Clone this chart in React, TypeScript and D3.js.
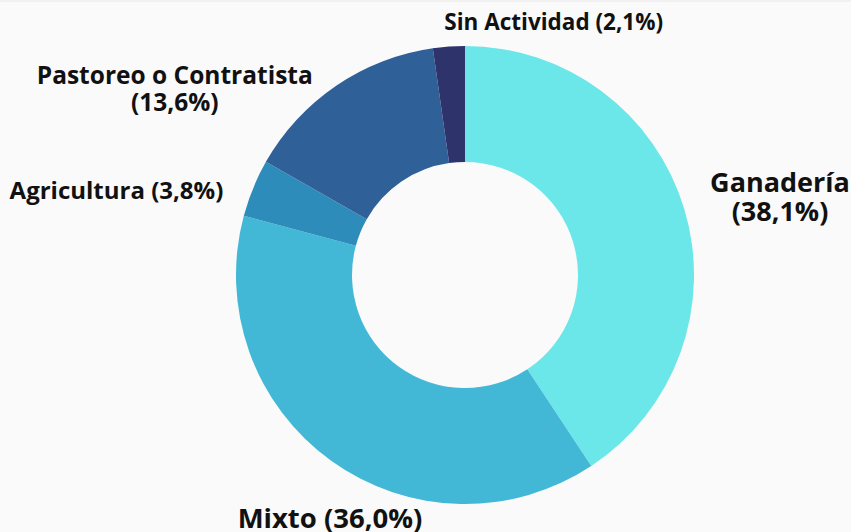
import React, { useEffect, useRef } from 'react';
import * as d3 from 'd3';

// slice categories, values (%) and colours
const categories = ['Ganadería', 'Mixto', 'Agricultura', 'Pastoreo o Contratista', 'Sin Actividad'];
const values = [38.1, 36.0, 3.8, 13.6, 2.1];
const colors = ['#6be6e9', '#43b8d6', '#2d8cba', '#2f6098', '#2f336c'];

// label text lines: name split where the reference wraps
const labelLines = [
    ['Ganadería', '(38,1%)'],
    ['Mixto (36,0%)'],
    ['Agricultura (3,8%)'],
    ['Pastoreo o Contratista', '(13,6%)'],
    ['Sin Actividad (2,1%)'],
];

// label layout: nudge from the point on the label ring, font size, line gap
const labelLayout = [
    { dx: 66, dy: -8, size: 27, gap: 29 },
    { dx: 17, dy: 42, size: 27.5, gap: 0 },
    { dx: -108, dy: 23, size: 24, gap: 0 },
    { dx: -144, dy: 24, size: 24.5, gap: 27 },
    { dx: 107, dy: 14, size: 22.5, gap: 0 },
];

const App = () => {
    const svgRef = useRef<SVGSVGElement>(null);

    useEffect(() => {
        const width = 851;
        const height = 532;
        const cx = 465;
        const cy = 275;
        const outerR = 229;
        const innerR = 113;
        const labelR = 260;

        const svg = d3.select(svgRef.current);
        svg.selectAll('*').remove();
        svg.attr('width', width).attr('height', height);

        svg.append('rect').attr('width', width).attr('height', height).attr('fill', '#fafafa');
        svg.append('rect').attr('width', width).attr('height', 2).attr('fill', '#f1f1f1');

        const data = categories.map((c, i) => ({ name: c, value: values[i], i }));

        const pie = d3.pie<any>().value(d => d.value).sort(null);
        const arc = d3.arc<any>().innerRadius(innerR).outerRadius(outerR);
        const arcs = pie(data);

        const g = svg.append('g').attr('transform', `translate(${cx},${cy})`);

        g.selectAll('path')
            .data(arcs)
            .enter().append('path')
            .attr('d', arc)
            .attr('fill', d => colors[d.data.i]);

        const labels = g.selectAll('text')
            .data(arcs)
            .enter().append('text')
            .attr('text-anchor', 'middle')
            .style('font-family', '"Open Sans", sans-serif')
            .style('font-weight', 700)
            .style('font-size', d => `${labelLayout[d.data.i].size}px`)
            .attr('fill', '#111')
            .attr('transform', d => {
                const mid = (d.startAngle + d.endAngle) / 2;
                const n = labelLayout[d.data.i];
                const x = Math.sin(mid) * labelR + n.dx;
                const y = -Math.cos(mid) * labelR + n.dy;
                return `translate(${x},${y})`;
            });

        labels.selectAll('tspan')
            .data(d => labelLines[d.data.i].map((t, k) => ({ t, k, gap: labelLayout[d.data.i].gap })))
            .enter().append('tspan')
            .attr('x', 0)
            .attr('dy', d => (d.k === 0 ? 0 : d.gap))
            .text(d => d.t);
    }, []);

    return (
        <div style={{ position: 'fixed', left: 0, top: 0, width: 851, height: 532 }}>
            <svg ref={svgRef}></svg>
        </div>
    );
};

export default App;
